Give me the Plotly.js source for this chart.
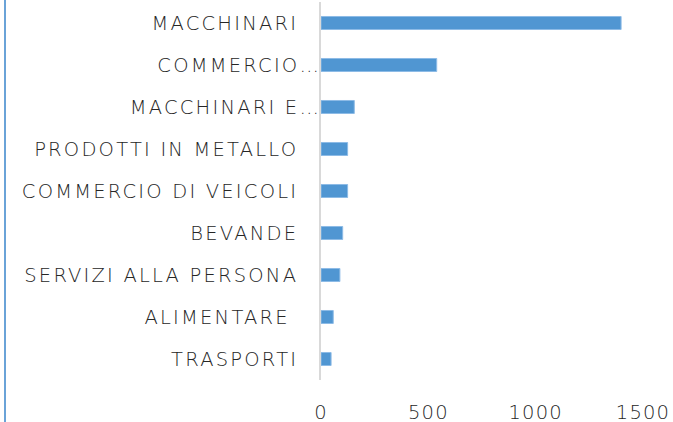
<!DOCTYPE html>
<html>
<head>
<meta charset="utf-8">
<script src="https://cdn.plot.ly/plotly-3.0.1.min.js"></script>
<style>
  html, body {margin: 0; padding: 0; background: #fff; overflow: hidden}
  #edge {position: absolute; left: 4px; top: 0; width: 2px; height: 422px; background: #6aa3d8}
  #chart {position: absolute; left: 0; top: 0; width: 673px; height: 422px}
  /* the original face is wide and airy */
  #chart .ytick text {letter-spacing: 2.2px}
  #chart .xtick text {letter-spacing: 1.2px}
</style>
</head>
<body>
<div id="edge"></div>
<div id="chart"></div>
<script>
  // settori, dall'alto verso il basso
  const categories = ["MACCHINARI", "COMMERCIO…", "MACCHINARI E…", "PRODOTTI IN METALLO", "COMMERCIO DI VEICOLI", "BEVANDE", "SERVIZI ALLA PERSONA", "ALIMENTARE ", "TRASPORTI"]
  const values = [1398, 539, 155, 124, 124, 101, 88, 57, 47]
  const xTicks = [0, 500, 1000, 1500]

  // truncated labels run right up to the axis, the others sit a little further left
  const pad = "\u00a0\u00a0\u2009"
  const tickText = categories.map(c => c.endsWith("…") ? c : c.replace(/ $/, "\u00a0") + pad)

  const font = {family: "'DejaVu Sans', sans-serif", size: 19.5, weight: 200, color: "#262626"}

  const data = [{
    type: "bar",
    orientation: "h",
    x: values,
    y: categories,
    marker: {color: "#5096d2", line: {color: "#8dbbe6", width: 1}},
    hoverinfo: "x+y"
  }]

  const layout = {
    width: 673,
    height: 422,
    margin: {l: 321, r: 30, t: 2, b: 42},
    paper_bgcolor: "rgba(0,0,0,0)",
    plot_bgcolor: "rgba(0,0,0,0)",
    font,
    showlegend: false,
    bargap: 0.69,
    xaxis: {
      range: [0, 1500],
      tickvals: xTicks,
      ticktext: xTicks.map(String),
      showgrid: false,
      zeroline: false,
      showline: false,
      ticks: "",
      ticklabelstandoff: 18,
      tickfont: font
    },
    yaxis: {
      type: "category",
      autorange: "reversed",
      tickvals: categories,
      ticktext: tickText,
      showgrid: false,
      zeroline: false,
      showline: true,
      linecolor: "#d9d9d9",
      linewidth: 2,
      ticks: "",
      ticklabelstandoff: -6,
      tickfont: font
    }
  }

  Plotly.newPlot("chart", data, layout, {displayModeBar: false, staticPlot: true})
</script>
</body>
</html>
